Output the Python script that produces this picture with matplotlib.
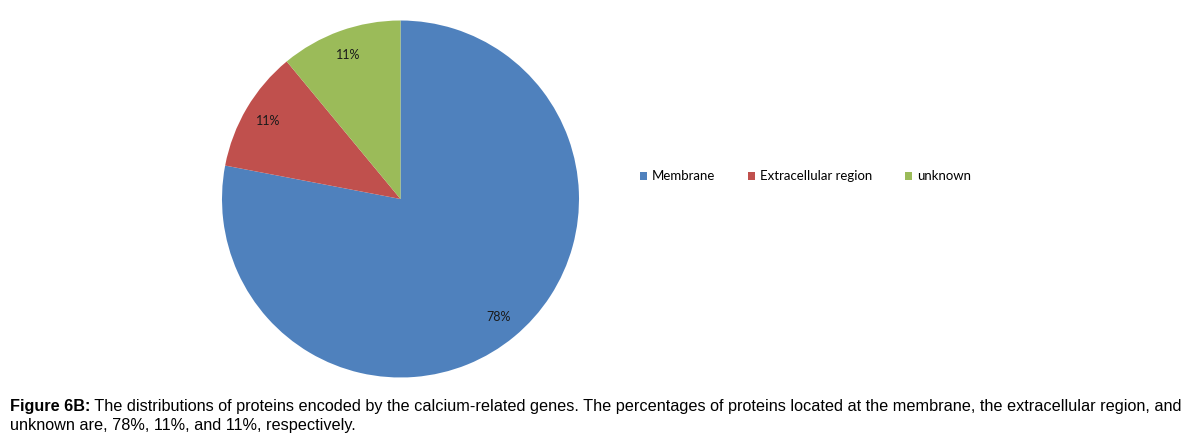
import matplotlib.pyplot as plt
from matplotlib.patches import Patch

# data
labels = ["Membrane", "Extracellular region", "unknown"]
shares = [78, 11, 11]
colors = ["#4F81BD", "#C0504D", "#9BBB59"]

caption_bold = "Figure 6B:"
caption_rest = (" The distributions of proteins encoded by the calcium-related genes. "
                "The percentages of proteins located at the membrane, the extracellular region, and")
caption_line2 = "unknown are, 78%, 11%, and 11%, respectively."

W, H = 1187, 443
fig = plt.figure(figsize=(W / 100, H / 100), dpi=100)

# pie centre ~ (400, 199) px, radius ~178 px
cx, cy, r = 400.5, 199, 178.5
ax = fig.add_axes([(cx - r) / W, (H - cy - r) / H, 2 * r / W, 2 * r / H])
wedges, texts, autotexts = ax.pie(shares, colors=colors, startangle=90, counterclock=False,
                                  autopct="%d%%", pctdistance=0.86, radius=1,
                                  wedgeprops=dict(linewidth=0),
                                  textprops=dict(fontsize=9, family="Lato", color="#1a1a1a"))
ax.set_xlim(-1, 1)
ax.set_ylim(-1, 1)
ax.set_aspect("equal")
ax.axis("off")

handles = [Patch(facecolor=c, edgecolor="none") for c in colors]
fig.legend(handles, labels, loc="center left", bbox_to_anchor=(640 / W, 1 - 176.5 / H),
           ncol=3, frameon=False, prop=dict(family="Lato", size=9.5),
           handlelength=0.5, handleheight=0.5, handletextpad=0.4,
           columnspacing=2.5, borderaxespad=0, borderpad=0)

# caption, bold lead-in followed by regular text
cap_font = dict(family="Liberation Sans", size=11.7)
t = fig.text(10 / W, 1 - 411 / H, caption_bold, fontweight="bold", **cap_font)
fig.canvas.draw()
bb = t.get_window_extent()
fig.text(bb.x1 / W, 1 - 411 / H, caption_rest, **cap_font)
fig.text(10 / W, 1 - 430 / H, caption_line2, **cap_font)

fig.savefig("out.png", dpi=100)
